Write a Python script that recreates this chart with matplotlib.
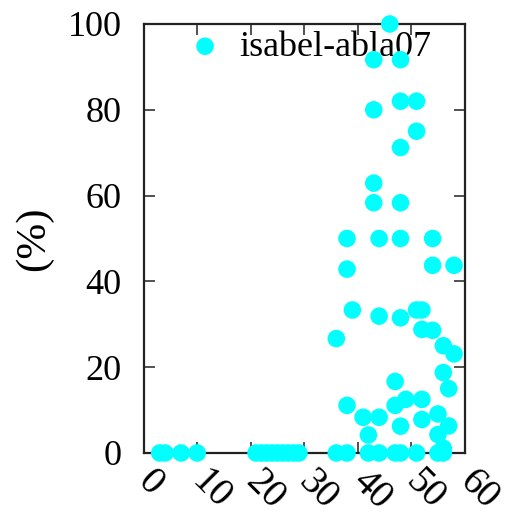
import matplotlib
matplotlib.use("Agg")
import matplotlib.pyplot as plt

plt.rcParams['font.family'] = ['Liberation Serif', 'DejaVu Serif']

series_name = "isabel-abla07"
x_vals = [3, 4, 7, 10, 21, 22, 23, 24, 25, 26, 27, 28, 29, 36, 38, 42, 44, 47, 48, 51, 55, 56,
          46, 43, 48, 48, 51, 43, 51, 48, 43, 43, 48,
          38, 44, 48, 54, 38, 54, 58,
          39, 44, 48, 51, 52, 36, 52, 54, 56, 58, 56, 57, 47,
          38, 47, 49, 52, 41, 44, 52, 55, 57, 48, 42, 55, 56]
y_vals = [0, 0, 0, 0, 0, 0, 0, 0, 0, 0, 0, 0, 0, 0, 0, 0, 0, 0, 0, 0, 0, 0,
          100, 91.67, 91.67, 82, 82, 80, 75, 71.2, 62.9, 58.33, 58.33,
          50, 50, 50, 50, 42.86, 43.75, 43.75,
          33.33, 31.9, 31.5, 33.33, 33.33, 26.67, 28.8, 28.6, 25, 23.1, 18.75, 15, 16.67,
          11.1, 11.1, 12.5, 12.5, 8.33, 8.33, 7.8, 9.1, 6.3, 6.25, 4.2, 4.3, 1.1]
x_ticks = [0, 10, 20, 30, 40, 50, 60]
y_ticks = [0, 20, 40, 60, 80, 100]

fig = plt.figure(figsize=(5.07, 5.19), dpi=100)
ax = fig.add_axes([0.2834, 0.1272, 0.9166 - 0.2834, 0.9538 - 0.1272])

ax.scatter(x_vals, y_vals, s=160, color='#00ffff', edgecolors='none',
           clip_on=False, zorder=5, label=series_name)

ax.set_xlim(0, 60)
ax.set_ylim(0, 100)
ax.set_xticks(x_ticks)
ax.set_yticks(y_ticks)
ax.set_yticklabels([str(v) for v in y_ticks], fontsize=26)
ax.set_xticklabels([str(v) for v in x_ticks], fontsize=28, rotation=-45,
                   ha='left', va='center', rotation_mode='anchor')
ax.tick_params(direction='in', length=8, width=1.2, top=True, right=True,
               color='#333333')
ax.tick_params(axis='y', pad=16)
ax.tick_params(axis='x', pad=17)
for sp in ax.spines.values():
    sp.set_linewidth(1.6)
    sp.set_color('#222222')

ax.set_ylabel('(%)', fontsize=31, labelpad=10)

leg = ax.legend(loc='upper left', bbox_to_anchor=(0.135, 0.985), frameon=False,
                fontsize=26, handletextpad=0.45, borderpad=0, borderaxespad=0,
                handlelength=1.0, markerscale=1.0)
leg.set_zorder(3)

fig.savefig('out.png', dpi=100)
